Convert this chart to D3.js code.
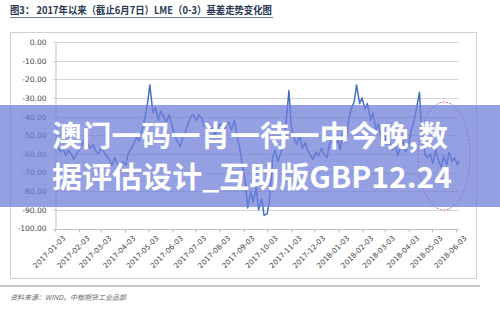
<!DOCTYPE html>
<html>
<head>
<meta charset="utf-8">
<script src="https://cdn.jsdelivr.net/npm/d3@7"></script>
<style>
  body { margin: 0; background: #fff; }
  svg { display: block; }
</style>
</head>
<body>
<svg id="chart" width="500" height="313"></svg>
<script>
// LME (0-3) basis, Tuesday / Friday readings, 2017-01-03 .. 2018-06-07
const dates = (
  "2017-01-03 2017-01-06 2017-01-10 2017-01-13 2017-01-17 2017-01-20 2017-01-24 2017-01-27 2017-01-31 " +
  "2017-02-03 2017-02-07 2017-02-10 2017-02-14 2017-02-17 2017-02-21 2017-02-24 2017-02-28 " +
  "2017-03-03 2017-03-07 2017-03-10 2017-03-14 2017-03-17 2017-03-21 2017-03-24 2017-03-28 2017-03-31 " +
  "2017-04-04 2017-04-07 2017-04-11 2017-04-14 2017-04-18 2017-04-21 2017-04-25 2017-04-28 " +
  "2017-05-02 2017-05-05 2017-05-09 2017-05-12 2017-05-16 2017-05-19 2017-05-23 2017-05-26 2017-05-30 " +
  "2017-06-02 2017-06-06 2017-06-09 2017-06-13 2017-06-16 2017-06-20 2017-06-23 2017-06-27 2017-06-30 " +
  "2017-07-04 2017-07-07 2017-07-11 2017-07-14 2017-07-18 2017-07-21 2017-07-25 2017-07-28 " +
  "2017-08-01 2017-08-04 2017-08-08 2017-08-11 2017-08-15 2017-08-18 2017-08-22 2017-08-25 2017-08-29 " +
  "2017-09-01 2017-09-05 2017-09-08 2017-09-12 2017-09-15 2017-09-19 2017-09-22 2017-09-26 2017-09-29 " +
  "2017-10-03 2017-10-06 2017-10-10 2017-10-13 2017-10-17 2017-10-20 2017-10-24 2017-10-27 2017-10-31 " +
  "2017-11-03 2017-11-07 2017-11-10 2017-11-14 2017-11-17 2017-11-21 2017-11-24 2017-11-28 " +
  "2017-12-01 2017-12-05 2017-12-08 2017-12-12 2017-12-15 2017-12-19 2017-12-22 2017-12-26 2017-12-29 " +
  "2018-01-02 2018-01-05 2018-01-09 2018-01-12 2018-01-16 2018-01-19 2018-01-23 2018-01-26 2018-01-30 " +
  "2018-02-02 2018-02-06 2018-02-09 2018-02-13 2018-02-16 2018-02-20 2018-02-23 2018-02-27 " +
  "2018-03-02 2018-03-06 2018-03-09 2018-03-13 2018-03-16 2018-03-20 2018-03-23 2018-03-27 2018-03-30 " +
  "2018-04-03 2018-04-06 2018-04-10 2018-04-13 2018-04-17 2018-04-20 2018-04-24 2018-04-27 " +
  "2018-05-01 2018-05-04 2018-05-08 2018-05-11 2018-05-15 2018-05-18 2018-05-22 2018-05-25 2018-05-29 " +
  "2018-06-01 2018-06-05 2018-06-07"
).split(" ");

const basis = [
  -54, -56, -59, -57, -61, -58, -60, -63, -60,
  -58, -55, -52, -54, -57, -55, -58, -60,
  -57, -59, -61, -63, -66, -62, -65, -68, -64,
  -66, -60, -57, -55, -51, -53, -47, -42,
  -33, -23, -38, -35, -42, -37, -40, -43, -39,
  -44, -50, -53, -56, -52, -48, -44, -40, -39,
  -42, -39, -41, -45, -43, -48, -46, -50,
  -46, -44, -48, -45, -43, -47, -42, -50, -58,
  -66, -75, -89, -80, -86, -78, -90, -84, -93,
  -92, -85, -62, -58, -64, -60, -55, -45, -26,
  -45, -52, -55, -50, -57, -54, -58, -61,
  -63, -59, -61, -57, -60, -62, -55, -52, -57,
  -52, -58, -46, -54, -42, -36, -32, -23, -33,
  -30, -36, -33, -42, -38, -47, -44, -52,
  -48, -55, -52, -58, -54, -61, -57, -53, -59,
  -55, -48, -42, -36, -27, -50, -60, -62,
  -60, -65, -58, -63, -67, -61, -66, -59, -64,
  -62, -66, -64
];

const xTicks = ["2017-01-03", "2017-02-03", "2017-03-03", "2017-04-03", "2017-05-03", "2017-06-03",
  "2017-07-03", "2017-08-03", "2017-09-03", "2017-10-03", "2017-11-03", "2017-12-03",
  "2018-01-03", "2018-02-03", "2018-03-03", "2018-04-03", "2018-05-03", "2018-06-03"];
const yTicks = [0, -10, -20, -30, -40, -50, -60, -70, -80, -90, -100];

const titleText = "图3：  2017年以来（截止6月7日）LME（0-3）基差走势变化图";
const sourceText = "资料来源：WIND，中粮期货工业品部";
const overlayLines = ["澳门一码一肖一待一中今晚,数", "据评估设计_互助版GBP12.24"];

const parse = d3.timeParse("%Y-%m-%d");
const data = dates.map((d, i) => ({ date: parse(d), value: basis[i] }));

const svg = d3.select("#chart");

const x = d3.scaleTime()
  .domain([parse(xTicks[0]), parse(xTicks[xTicks.length - 1])])
  .range([55, 456]);
const y = d3.scaleLinear().domain([-100, 0]).range([228.5, 42]);

// title
svg.append("text")
  .attr("x", 10).attr("y", 14)
  .attr("textLength", 262).attr("lengthAdjust", "spacingAndGlyphs")
  .style("font-family", "'Noto Sans CJK SC', sans-serif")
  .style("font-size", "10.5px").style("font-weight", "bold")
  .style("fill", "#2b3a55")
  .text(titleText);
svg.append("line")
  .attr("x1", 10).attr("x2", 273).attr("y1", 17.5).attr("y2", 17.5)
  .style("stroke", "#4a5a7a").style("stroke-width", 0.8);

// chart frame + shadow line
svg.append("rect")
  .attr("x", 10.5).attr("y", 32.5).attr("width", 466).attr("height", 246)
  .style("fill", "#fff").style("stroke", "#d0d0d0");
svg.append("line")
  .attr("x1", 0).attr("x2", 480).attr("y1", 286).attr("y2", 286)
  .style("stroke", "#8a8a8a").style("stroke-width", 1.2);

// gridlines
svg.append("g")
  .selectAll("line")
  .data(yTicks.filter(d => d > -100))
  .join("line")
  .attr("x1", 53).attr("x2", 459)
  .attr("y1", d => Math.round(y(d)) + 0.5).attr("y2", d => Math.round(y(d)) + 0.5)
  .style("stroke", "#d6d6d6");

// y axis
const yAxis = svg.append("g")
  .attr("transform", "translate(55.5,0)")
  .call(d3.axisLeft(y).tickValues(yTicks).tickSize(0).tickPadding(9)
    .tickFormat(d => d.toFixed(2)));
yAxis.select(".domain").style("stroke", "#bfbfbf");
yAxis.selectAll("text")
  .style("font-family", "'DejaVu Sans', sans-serif")
  .style("font-size", "7.5px").style("fill", "#444");

// x axis
const xAxis = svg.append("g")
  .attr("transform", "translate(0," + (Math.round(y(-100)) + 0.5) + ")")
  .call(d3.axisBottom(x).tickValues(xTicks.map(parse)).tickSize(3).tickSizeOuter(0)
    .tickFormat(d3.timeFormat("%Y-%m-%d")));
xAxis.select(".domain").attr("d", "M53,0H459").style("stroke", "#bfbfbf");
xAxis.selectAll(".tick line").style("stroke", "#bfbfbf");
xAxis.selectAll("text")
  .style("font-family", "'DejaVu Sans', sans-serif")
  .style("font-size", "7.3px").style("fill", "#444")
  .attr("text-anchor", "end")
  .attr("dx", "1").attr("dy", "8")
  .attr("transform", "rotate(-45)");

// series
svg.append("path")
  .datum(data)
  .attr("d", d3.line().x(d => x(d.date)).y(d => y(d.value)))
  .style("fill", "none")
  .style("stroke", "#4470c2")
  .style("stroke-width", 1.5)
  .style("stroke-linejoin", "round");

// dashed ellipse around latest values
svg.append("ellipse")
  .attr("cx", 444).attr("cy", 156).attr("rx", 26).attr("ry", 54)
  .style("fill", "none").style("stroke", "#d0506a")
  .style("stroke-width", 0.9).style("stroke-dasharray", "2,1.5");

// source note
svg.append("text")
  .attr("x", 10).attr("y", 300)
  .style("font-family", "'Noto Sans CJK SC', sans-serif")
  .style("font-size", "7px").style("font-style", "italic")
  .style("fill", "#6a6a6a")
  .text(sourceText);

// overlay banner
svg.append("rect")
  .attr("x", 0).attr("y", 105).attr("width", 500).attr("height", 102)
  .style("fill", "#6f7fd8").style("opacity", 0.74);
svg.append("g")
  .selectAll("text")
  .data(overlayLines)
  .join("text")
  .attr("x", 52)
  .attr("y", (d, i) => 147 + i * 41)
  .attr("textLength", (d, i) => i ? 400 : 396)
  .attr("lengthAdjust", "spacingAndGlyphs")
  .style("font-family", "'Noto Sans CJK SC', sans-serif")
  .style("font-size", "29px").style("font-weight", "bold")
  .style("fill", "#fff")
  .text(d => d);
</script>
</body>
</html>
